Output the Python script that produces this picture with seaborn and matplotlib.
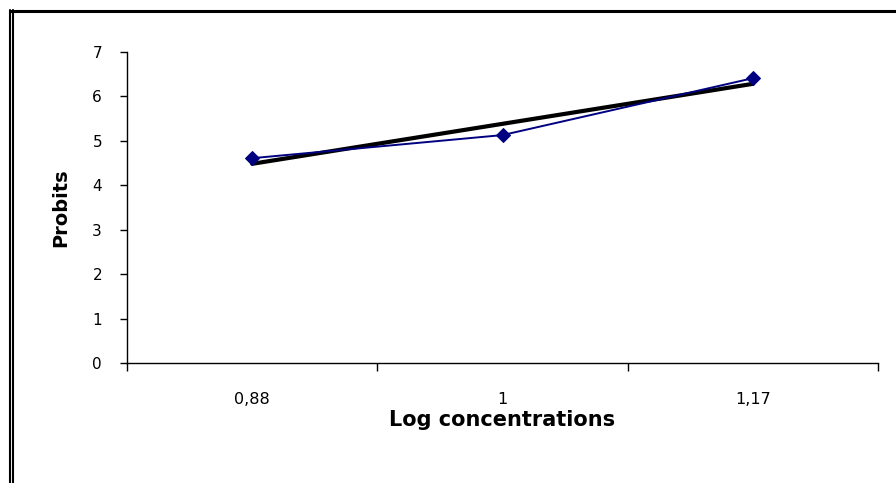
import matplotlib
matplotlib.use("Agg")
import matplotlib.pyplot as plt
import seaborn as sns
import pandas as pd
import numpy as np
from matplotlib.lines import Line2D

# Data
categories = ["0,88", "1", "1,17"]
probits = [4.61, 5.13, 6.41]
y_ticks = [0, 1, 2, 3, 4, 5, 6, 7]

sns.set_style("ticks")
plt.rcParams['font.family'] = ['DejaVu Sans']

df = pd.DataFrame({"pos": np.arange(len(categories)), "probit": probits})

fig = plt.figure(figsize=(8.96, 4.83), dpi=100)
W, H = 896, 483
ax = fig.add_axes([127 / W, 1 - 363 / H, (878 - 127) / W, (363 - 52) / H])

# Linear trendline (least squares fit via seaborn)
sns.regplot(data=df, x="pos", y="probit", ax=ax, ci=None, scatter=False,
            truncate=True, line_kws=dict(color="black", lw=3.0, zorder=2))
# Data series
sns.lineplot(data=df, x="pos", y="probit", ax=ax, color="#000080", lw=1.4,
             marker="D", markersize=7, markeredgecolor="#000080", zorder=3)

ax.set_xlim(-0.5, len(categories) - 0.5)
ax.set_ylim(0, 7)
ax.set_yticks(y_ticks)
ax.set_xticks(df["pos"])
ax.set_xticklabels(categories)
ax.set_xticks(np.arange(-0.5, len(categories), 1.0), minor=True)
ax.tick_params(axis="x", which="major", length=0, pad=21, labelsize=11.5, labelcolor="black")
ax.tick_params(axis="x", which="minor", length=6, width=1, direction="out", color="black")
ax.tick_params(axis="y", length=5, width=1, direction="out", pad=13, labelsize=11,
               color="black", labelcolor="black")

for s in ["top", "right"]:
    ax.spines[s].set_visible(False)
for s in ["left", "bottom"]:
    ax.spines[s].set_color("black")
    ax.spines[s].set_linewidth(1.0)

ax.set_xlabel("Log concentrations", fontsize=15, fontweight="bold", labelpad=2, color="black")
ax.set_ylabel("Probits", fontsize=14, fontweight="bold", labelpad=16, color="black")

# Outer frame (top and left, double on left)
fig.add_artist(Line2D([10 / W, 1], [1 - 11 / H, 1 - 11 / H], color="black", lw=2.2,
                      transform=fig.transFigure))
fig.add_artist(Line2D([10 / W, 10 / W], [0, 1 - 10 / H], color="black", lw=1.5,
                      transform=fig.transFigure))
fig.add_artist(Line2D([13 / W, 13 / W], [0, 1 - 10 / H], color="black", lw=1.5,
                      transform=fig.transFigure))

fig.savefig("out.png", dpi=100)
